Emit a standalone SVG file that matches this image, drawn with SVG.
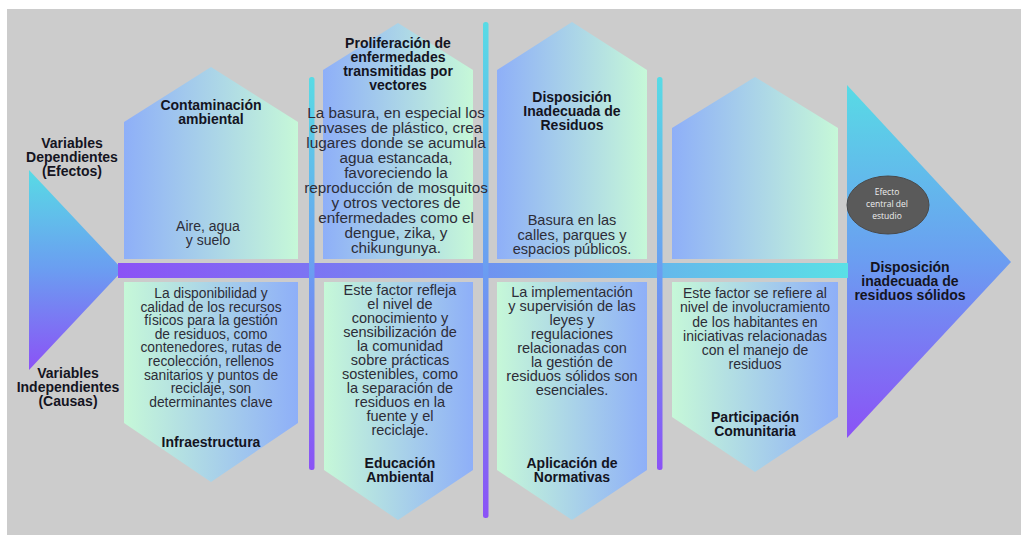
<svg xmlns="http://www.w3.org/2000/svg" width="1021" height="535" viewBox="0 0 1021 535">
<defs>
<linearGradient id="gTop" x1="0" y1="0" x2="1" y2="0"><stop offset="0" stop-color="#8eaff8"/><stop offset="1" stop-color="#c6f8d8"/></linearGradient>
<linearGradient id="gBot" x1="0" y1="0" x2="1" y2="0"><stop offset="0" stop-color="#c6f8d8"/><stop offset="1" stop-color="#8eaff8"/></linearGradient>
<linearGradient id="gVert" x1="0" y1="0" x2="0" y2="1"><stop offset="0" stop-color="#58dbe5"/><stop offset="0.5" stop-color="#6b9df1"/><stop offset="1" stop-color="#8b52f6"/></linearGradient>
<linearGradient id="gBand" x1="0" y1="0" x2="1" y2="0"><stop offset="0" stop-color="#8b52f6"/><stop offset="0.5" stop-color="#6f92f0"/><stop offset="1" stop-color="#5ae0e6"/></linearGradient>
<style>
.hd{font-family:"Liberation Sans",Arial,sans-serif;font-weight:bold;font-size:14px;fill:#14141f;text-anchor:middle}
.bd{font-family:"Liberation Sans",Arial,sans-serif;font-size:14.5px;fill:#2d2d38;text-anchor:middle}
.sm{font-family:"Open Sans","Liberation Sans",sans-serif;font-size:8.5px;fill:#eeeeee;text-anchor:middle}
.bar{fill:url(#gVert)}
</style>
</defs>
<rect x="7" y="9" width="1014" height="526" fill="#cccccc"/>

<g id="left-triangle"><polygon points="29,170 123,270 29,370" fill="url(#gVert)"/></g>
<g id="right-triangle"><polygon points="847,85 1011,262 847,438" fill="url(#gVert)"/></g>

<g id="connectors">
<rect x="118" y="263" width="730" height="15" fill="url(#gBand)"/>
<rect class="bar" x="309" y="77" width="5.5" height="393" rx="2.5"/>
<rect class="bar" x="483" y="22" width="5.5" height="496" rx="2.5"/>
<rect class="bar" x="657" y="77" width="5.5" height="393" rx="2.5"/>
</g>

<g id="label-dependientes">
<text class="hd" x="72" y="148">Variables</text>
<text class="hd" x="72" y="162">Dependientes</text>
<text class="hd" x="72" y="176">(Efectos)</text>
</g>
<g id="label-independientes">
<text class="hd" x="68" y="378">Variables</text>
<text class="hd" x="68" y="392">Independientes</text>
<text class="hd" x="68" y="406">(Causas)</text>
</g>

<g id="contaminacion">
<polygon points="124,259 124,122 211,67 298,122 298,259" fill="url(#gTop)"/>
<text class="hd" x="211" y="110">Contaminación</text>
<text class="hd" x="211" y="124">ambiental</text>
<text class="bd" x="208" y="231" style="font-size:14px">Aire, agua</text>
<text class="bd" x="208" y="245" style="font-size:14px">y suelo</text>
</g>

<g id="proliferacion">
<polygon points="323,259 323,70 398,23 473,70 473,259" fill="url(#gTop)"/>
<text class="hd" x="398" y="48">Proliferación de</text>
<text class="hd" x="398" y="62">enfermedades</text>
<text class="hd" x="398" y="76">transmitidas por</text>
<text class="hd" x="398" y="90">vectores</text>
<g class="bd" style="font-size:15.3px">
<text x="396" y="118">La basura, en especial los</text>
<text x="396" y="133">envases de plástico, crea</text>
<text x="396" y="148">lugares donde se acumula</text>
<text x="396" y="163">agua estancada,</text>
<text x="396" y="178">favoreciendo la</text>
<text x="396" y="193">reproducción de mosquitos</text>
<text x="396" y="208">y otros vectores de</text>
<text x="396" y="223">enfermedades como el</text>
<text x="396" y="238">dengue, zika, y</text>
<text x="396" y="253">chikungunya.</text>
</g>
</g>

<g id="disposicion">
<polygon points="497,259 497,70 572,22 647,70 647,259" fill="url(#gTop)"/>
<text class="hd" x="572" y="102">Disposición</text>
<text class="hd" x="572" y="116">Inadecuada de</text>
<text class="hd" x="572" y="130">Residuos</text>
<text class="bd" x="572" y="225">Basura en las</text>
<text class="bd" x="572" y="240">calles, parques y</text>
<text class="bd" x="572" y="254">espacios públicos.</text>
</g>

<g id="empty-top">
<polygon points="672,259 672,128 755,77 838,128 838,259" fill="url(#gTop)"/>
</g>

<g id="efecto-central">
<ellipse cx="888" cy="205" rx="41" ry="29" fill="#5a5a5a" stroke="#4a4a4a" stroke-width="1"/>
<text class="sm" x="887" y="195">Efecto</text>
<text class="sm" x="887" y="207">central del</text>
<text class="sm" x="887" y="219">estudio</text>
</g>

<g id="disposicion-solidos">
<text class="hd" x="910" y="272">Disposición</text>
<text class="hd" x="910" y="286">inadecuada de</text>
<text class="hd" x="910" y="300">residuos sólidos</text>
</g>

<g id="infraestructura">
<polygon points="124,282 298,282 298,423 211,482 124,423" fill="url(#gBot)"/>
<g class="bd" style="font-size:13.8px">
<text x="211" y="298">La disponibilidad y</text>
<text x="211" y="312">calidad de los recursos</text>
<text x="211" y="325">físicos para la gestión</text>
<text x="211" y="339">de residuos, como</text>
<text x="211" y="352">contenedores, rutas de</text>
<text x="211" y="366">recolección, rellenos</text>
<text x="211" y="380">sanitarios y puntos de</text>
<text x="211" y="393">reciclaje, son</text>
<text x="211" y="407">determinantes clave</text>
</g>
<text class="hd" x="211" y="447">Infraestructura</text>
</g>

<g id="educacion">
<polygon points="324,282 473,282 473,470 398,520 324,470" fill="url(#gBot)"/>
<g class="bd">
<text x="400" y="295">Este factor refleja</text>
<text x="400" y="309">el nivel de</text>
<text x="400" y="323">conocimiento y</text>
<text x="400" y="337">sensibilización de</text>
<text x="400" y="351">la comunidad</text>
<text x="400" y="365">sobre prácticas</text>
<text x="400" y="379">sostenibles, como</text>
<text x="400" y="393">la separación de</text>
<text x="400" y="407">residuos en la</text>
<text x="400" y="421">fuente y el</text>
<text x="400" y="435">reciclaje.</text>
</g>
<text class="hd" x="400" y="468">Educación</text>
<text class="hd" x="400" y="482">Ambiental</text>
</g>

<g id="aplicacion">
<polygon points="497,282 647,282 647,470 572,520 497,470" fill="url(#gBot)"/>
<g class="bd">
<text x="572" y="297">La implementación</text>
<text x="572" y="311">y supervisión de las</text>
<text x="572" y="325">leyes y</text>
<text x="572" y="339">regulaciones</text>
<text x="572" y="353">relacionadas con</text>
<text x="572" y="367">la gestión de</text>
<text x="572" y="381">residuos sólidos son</text>
<text x="572" y="395">esenciales.</text>
</g>
<text class="hd" x="572" y="468">Aplicación de</text>
<text class="hd" x="572" y="482">Normativas</text>
</g>

<g id="participacion">
<polygon points="672,282 838,282 838,417 755,472 672,417" fill="url(#gBot)"/>
<g class="bd" style="font-size:14px">
<text x="755" y="298">Este factor se refiere al</text>
<text x="755" y="312">nivel de involucramiento</text>
<text x="755" y="327">de los habitantes en</text>
<text x="755" y="341">iniciativas relacionadas</text>
<text x="755" y="355">con el manejo de</text>
<text x="755" y="369">residuos</text>
</g>
<text class="hd" x="755" y="422">Participación</text>
<text class="hd" x="755" y="436">Comunitaria</text>
</g>
</svg>
